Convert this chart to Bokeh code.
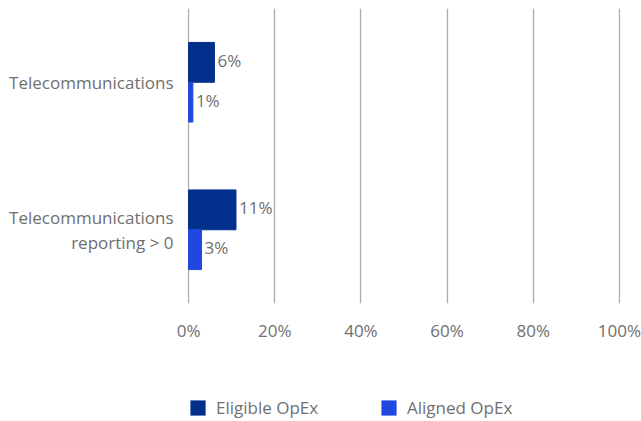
from bokeh.plotting import figure
from bokeh.layouts import column
from bokeh.models import (ColumnDataSource, FactorRange, Range1d, Legend, LegendItem,
                          FixedTicker)
from bokeh.transform import dodge
from bokeh.core.properties import value
from bokeh.embed import file_html
from bokeh.resources import INLINE

# Categories (listed bottom to top for the y axis) and series values in percent
categories = ["Telecommunications\nreporting > 0", "Telecommunications"]
eligible_opex = [11, 6]
aligned_opex = [3, 1]
x_ticks = [0, 20, 40, 60, 80, 100]

FONT = "Open Sans"
FONT_SIZE = "17px"
TEXT_COLOR = "#6f6f6f"
ELIGIBLE_COLOR = "#00308c"
ALIGNED_COLOR = "#1f48e0"

src = ColumnDataSource(data=dict(
    cat=categories,
    eligible=eligible_opex,
    aligned=aligned_opex,
    eligible_lbl=[f"{v}%" for v in eligible_opex],
    aligned_lbl=[f"{v}%" for v in aligned_opex],
))

p = figure(
    width=641, height=365,
    min_border_left=187, min_border_right=21, min_border_top=8, min_border_bottom=62,
    y_range=FactorRange(*categories, range_padding=0.0),
    x_range=Range1d(-0.25, 100.25),
    output_backend="svg", toolbar_location=None,
    outline_line_color=None,
)

bar_h = 0.27
p.hbar(y=dodge("cat", bar_h / 2, range=p.y_range), right="eligible", left=0,
       height=bar_h, source=src, color=ELIGIBLE_COLOR)
p.hbar(y=dodge("cat", -bar_h / 2, range=p.y_range), right="aligned", left=0,
       height=bar_h, source=src, color=ALIGNED_COLOR)

# Value labels at the end of each bar
for col, lbl, off in [("eligible", "eligible_lbl", bar_h / 2), ("aligned", "aligned_lbl", -bar_h / 2)]:
    p.text(x=col, y=dodge("cat", off, range=p.y_range), text=lbl,
           source=src, x_offset=3, y_offset=-2, text_baseline="middle", text_align="left",
           text_font=value(FONT), text_font_size=FONT_SIZE, text_color=TEXT_COLOR)

# X axis
p.xaxis.ticker = FixedTicker(ticks=x_ticks)
p.xaxis.major_label_overrides = {t: f"{t}%" for t in x_ticks}
p.xaxis.axis_line_color = None
p.xaxis.major_tick_in = 0
p.xaxis.major_tick_out = 0
p.xaxis.minor_tick_line_color = None
p.xaxis.major_label_standoff = 15
p.xaxis.major_label_text_font = FONT
p.xaxis.major_label_text_font_size = FONT_SIZE
p.xaxis.major_label_text_color = TEXT_COLOR

# Y axis
p.yaxis.axis_line_color = None
p.yaxis.major_tick_line_color = None
p.yaxis.minor_tick_line_color = None
p.yaxis.major_label_standoff = 8
p.yaxis.major_label_text_font = FONT
p.yaxis.major_label_text_font_size = FONT_SIZE
p.yaxis.major_label_text_color = TEXT_COLOR
p.yaxis.major_label_text_line_height = 1.1

p.ygrid.grid_line_color = None
p.xgrid.grid_line_color = "#ababab"
p.xgrid.grid_line_width = 1.3

# Legend strip below the chart (its frame lines up with the chart frame)
lg = figure(width=641, height=56, min_border=0, output_backend="svg",
            toolbar_location=None, outline_line_color=None,
            x_range=Range1d(0, 1), y_range=Range1d(0, 1))
lg.axis.visible = False
lg.grid.visible = False
# zero-height swatch renderers: they only supply the legend glyphs
r_e = lg.vbar(x=[0.5], top=[0], bottom=[0], width=0.1,
              fill_color=ELIGIBLE_COLOR, line_color=None)
r_a = lg.vbar(x=[0.5], top=[0], bottom=[0], width=0.1,
              fill_color=ALIGNED_COLOR, line_color=None)
leg = Legend(items=[LegendItem(label="Eligible OpEx", renderers=[r_e]),
                    LegendItem(label="Aligned OpEx", renderers=[r_a])],
             location=(1, 2), orientation="horizontal",
             padding=0, margin=0, spacing=0, label_standoff=9, label_width=163,
             glyph_width=19, glyph_height=19, label_height=19,
             border_line_color=None, background_fill_alpha=0,
             label_text_font=FONT, label_text_font_size=FONT_SIZE,
             label_text_color=TEXT_COLOR)
lg.add_layout(leg, "center")

open("out.html", "w").write(file_html(column(p, lg, spacing=0), INLINE))
